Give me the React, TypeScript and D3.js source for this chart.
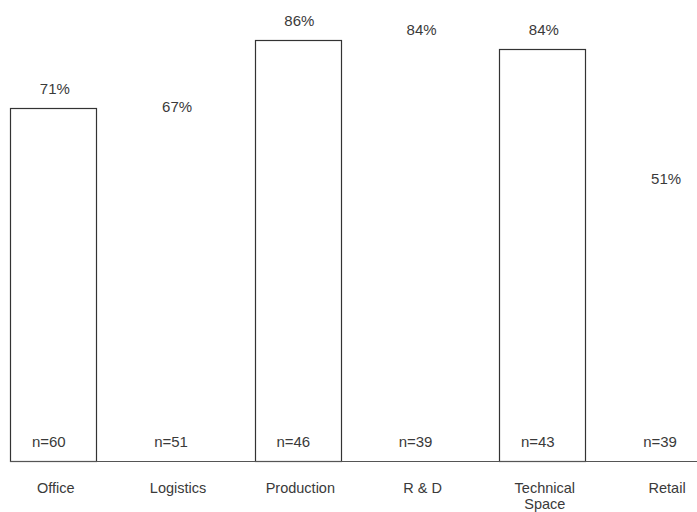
import React, { useEffect, useRef } from "react";
import * as d3 from "d3";

// categories and values
const categories = ["Office", "Logistics", "Production", "R & D", "Technical Space", "Retail"];
const percents = [71, 67, 86, 84, 84, 51];
const counts = [60, 51, 46, 39, 43, 39];
// only some bars carry an outline in the original
const outlined = [true, false, true, false, true, false];

const W = 697;
const H = 512;
const baseY = 461;

const App = () => {
    const ref = useRef<SVGSVGElement>(null);

    useEffect(() => {
        const svg = d3.select(ref.current);
        svg.selectAll("*").remove();

        const x = d3
            .scaleBand()
            .domain(categories)
            .range([-8.3, 725.2])
            .paddingInner(0.3)
            .paddingOuter(0.15);

        // axis origin sits slightly below zero in the source
        const y = d3.scaleLinear().domain([-7, 100]).range([baseY, -23.7]);

        const font = "'Liberation Sans', Arial, sans-serif";
        const ink = "#3a3a3a";
        const rows = categories.map((c, i) => ({
            c,
            v: percents[i],
            n: counts[i],
            o: outlined[i],
        }));

        // bars
        svg.append("g")
            .selectAll("rect")
            .data(rows)
            .join("rect")
            .attr("x", (d) => Math.round(x(d.c)!) + 0.5)
            .attr("y", (d) => Math.round(y(d.v)) + 0.5)
            .attr("width", Math.round(x.bandwidth()))
            .attr("height", (d) => baseY - Math.round(y(d.v)))
            .attr("fill", "#fff")
            .attr("stroke", (d) => (d.o ? "#333" : "none"))
            .attr("stroke-width", 1.2);

        // baseline
        svg.append("line")
            .attr("x1", 10)
            .attr("x2", W)
            .attr("y1", baseY + 0.5)
            .attr("y2", baseY + 0.5)
            .attr("stroke", "#555")
            .attr("stroke-width", 1.2);

        const cx = (d) => x(d.c)! + x.bandwidth() / 2;

        // percentage labels
        svg.append("g")
            .selectAll("text")
            .data(rows)
            .join("text")
            .attr("x", (d) => cx(d) + 2)
            .attr("y", (d) => y(d.v) - 14)
            .attr("text-anchor", "middle")
            .style("font-family", font)
            .style("font-size", "15px")
            .attr("fill", ink)
            .text((d) => `${d.v}%`);

        // n labels
        svg.append("g")
            .selectAll("text")
            .data(rows)
            .join("text")
            .attr("x", (d) => cx(d) - 4)
            .attr("y", baseY - 14)
            .attr("text-anchor", "middle")
            .style("font-family", font)
            .style("font-size", "15px")
            .attr("fill", ink)
            .text((d) => `n=${d.n}`);

        // category labels, split into two lines where needed
        const cat = svg
            .append("g")
            .selectAll("text")
            .data(rows)
            .join("text")
            .attr("x", (d) => cx(d) + 3)
            .attr("y", baseY + 32)
            .attr("text-anchor", "middle")
            .style("font-family", font)
            .style("font-size", "14.5px")
            .attr("fill", ink);

        cat.selectAll("tspan")
            .data((d) => (d.c === "Technical Space" ? ["Technical", "Space"] : [d.c]))
            .join("tspan")
            .attr("x", function () {
                return d3.select(this.parentNode as SVGTextElement).attr("x");
            })
            .attr("dy", (d, i) => (i === 0 ? 0 : 16))
            .text((d) => d);
    }, []);

    return (
        <svg
            ref={ref}
            width={W}
            height={H}
            style={{ position: "absolute", left: 0, top: 0, background: "#fff" }}
        />
    );
};

export default App;
